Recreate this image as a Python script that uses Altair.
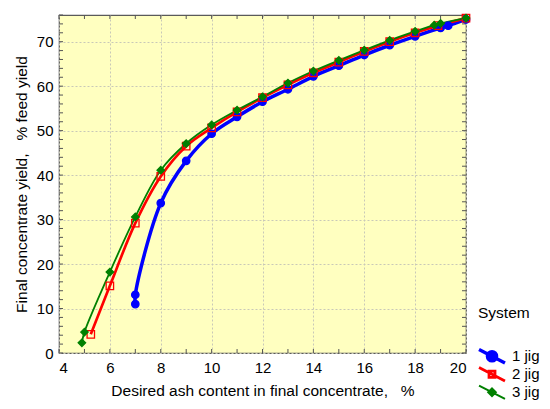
import altair as alt
import pandas as pd

# ---- data ----
systems = ["1 jig", "2 jig", "3 jig"]

ash_1 = [7.0, 7.0, 8.0, 9.0, 10.0, 11.0, 12.0, 13.0, 14.0, 15.0, 16.0, 17.0, 18.0, 19.0, 19.3, 20.0]
yld_1 = [11.0, 13.1, 33.7, 43.2, 49.3, 53.1, 56.5, 59.3, 62.2, 64.6, 67.0, 69.2, 71.2, 73.1, 73.6, 75.0]

ash_2 = [5.25, 6.0, 7.0, 8.0, 9.0, 10.0, 11.0, 12.0, 13.0, 14.0, 15.0, 16.0, 17.0, 18.0, 18.9, 20.0]
yld_2 = [4.2, 15.1, 29.2, 39.7, 46.5, 50.6, 54.2, 57.4, 60.3, 63.0, 65.4, 67.8, 70.0, 72.0, 73.6, 75.3]

ash_3 = [4.9, 5.0, 6.0, 7.0, 8.0, 9.0, 10.0, 11.0, 12.0, 13.0, 14.0, 15.0, 16.0, 17.0, 18.0, 18.75, 19.0, 20.0]
yld_3 = [2.3, 4.7, 18.2, 30.6, 41.1, 47.1, 51.3, 54.6, 57.6, 60.7, 63.4, 65.8, 68.1, 70.3, 72.3, 73.7, 74.1, 75.3]

x_tick_values = list(range(4, 21, 1))
y_tick_values = list(range(0, 77, 2))
x_labels = [4, 6, 8, 10, 12, 14, 16, 18, 20]
y_labels = [0, 10, 20, 30, 40, 50, 60, 70]

colors = ["#0000ff", "#ff0000", "#008000"]
fills = ["#0000ff", "transparent", "#008000"]
shapes = ["circle", "square", "diamond"]
line_widths = [3.5, 1.8, 2.0]
legend_shapes = [
    "M-1.06,-0.55L1.06,0.55M0.37,0A0.37,0.37,0,1,1,-0.37,0A0.37,0.37,0,1,1,0.37,0Z",
    "M-1.06,-0.55L1.06,0.55M-0.245,-0.245L0.245,-0.245L0.245,0.245L-0.245,0.245Z",
    "M-1.06,-0.55L1.06,0.55M0,-0.31L0.31,0L0,0.31L-0.31,0Z",
]

rows = []
for name, xs, ys in zip(systems, [ash_1, ash_2, ash_3], [yld_1, yld_2, yld_3]):
    for i, (a, b) in enumerate(zip(xs, ys)):
        rows.append({"System": name, "ash": a, "yield": b, "idx": i})
df = pd.DataFrame(rows)

W, H = 407, 338
FONT = "Liberation Sans"

x_scale = alt.Scale(domain=[4, 20], nice=False, zero=False)
y_scale = alt.Scale(domain=[0, 76], nice=False, zero=False)

x_axis = alt.Axis(values=x_labels, grid=True, gridColor="#c8c8b8", gridDash=[2, 2],
                  gridWidth=1, ticks=False, domain=False, labelFontSize=15,
                  labelPadding=7, labelColor="#000",
                  title="Desired ash content in final concentrate,\u00a0\u00a0\u00a0%",
                  titleFontSize=15.5, titleFontWeight="normal", titlePadding=8, titleColor="#000")
y_axis = alt.Axis(values=y_labels, grid=True, gridColor="#c8c8b8", gridDash=[2, 2],
                  gridWidth=1, ticks=False, domain=False, labelFontSize=15,
                  labelPadding=6, labelColor="#000",
                  title="Final concentrate yield,\u00a0\u00a0\u00a0% feed yield",
                  titleFontSize=15.5, titleFontWeight="normal", titlePadding=7, titleColor="#000")

X = alt.X("ash:Q", scale=x_scale, axis=x_axis)
Y = alt.Y("yield:Q", scale=y_scale, axis=y_axis)

sdom = alt.Scale(domain=systems, range=colors)

lines = alt.Chart(df).mark_line(interpolate="catmull-rom").encode(
    x=X, y=Y,
    color=alt.Color("System:N", scale=sdom, legend=None),
    strokeWidth=alt.StrokeWidth("System:N", scale=alt.Scale(domain=systems, range=line_widths), legend=None),
    order="idx:Q",
    detail="System:N",
)

points = alt.Chart(df).mark_point(opacity=1, size=55, strokeWidth=1.3).encode(
    x=X, y=Y,
    color=alt.Color("System:N", scale=sdom, legend=None),
    fill=alt.Fill("System:N", scale=alt.Scale(domain=systems, range=fills), legend=None),
    shape=alt.Shape("System:N", scale=alt.Scale(domain=systems, range=shapes), legend=None),
)

leg = alt.Legend(title="System", orient="none", legendX=419, legendY=291,
                 titleFontSize=15.5, titleFontWeight="normal", titleColor="#000",
                 titlePadding=26, titleAnchor="start", labelFontSize=15, labelColor="#000",
                 labelOffset=6, symbolSize=600, rowPadding=0, clipHeight=17.5, padding=0)

legend_layer = alt.Chart(df).transform_filter("false").mark_point(opacity=1).encode(
    x=X, y=Y,
    color=alt.Color("System:N", scale=sdom, legend=leg),
    fill=alt.Fill("System:N", scale=alt.Scale(domain=systems, range=fills), legend=leg),
    shape=alt.Shape("System:N", scale=alt.Scale(domain=systems, range=legend_shapes), legend=leg),
    strokeWidth=alt.StrokeWidth("System:N", scale=alt.Scale(domain=systems, range=[3.5, 2.0, 2.0]), legend=leg),
)

xt = pd.DataFrame({"ash": x_tick_values})
yt = pd.DataFrame({"yield": y_tick_values})
tick_col = "#555555"
x_top = alt.Chart(xt).mark_rule(color=tick_col, strokeWidth=1).encode(x=X, y=alt.value(0), y2=alt.value(4))
x_bot = alt.Chart(xt).mark_rule(color=tick_col, strokeWidth=1).encode(x=X, y=alt.value(H), y2=alt.value(H - 4))
y_left = alt.Chart(yt).mark_rule(color=tick_col, strokeWidth=1).encode(y=Y, x=alt.value(0), x2=alt.value(4))
y_right = alt.Chart(yt).mark_rule(color=tick_col, strokeWidth=1).encode(y=Y, x=alt.value(W), x2=alt.value(W - 4))

chart = alt.layer(x_top, x_bot, y_left, y_right, lines, points, legend_layer).resolve_scale(
    color="independent", fill="independent", shape="independent", strokeWidth="independent"
).properties(
    width=W, height=H,
    autosize=alt.AutoSizeParams(type="none"),
    padding={"left": 51, "top": 7, "right": 76, "bottom": 48},
).configure(font=FONT).configure_view(
    fill="#ffffc0", stroke="#5a5a5a", strokeWidth=1.2
)

chart.save("out.html", embed_options={"renderer": "svg", "actions": False})
